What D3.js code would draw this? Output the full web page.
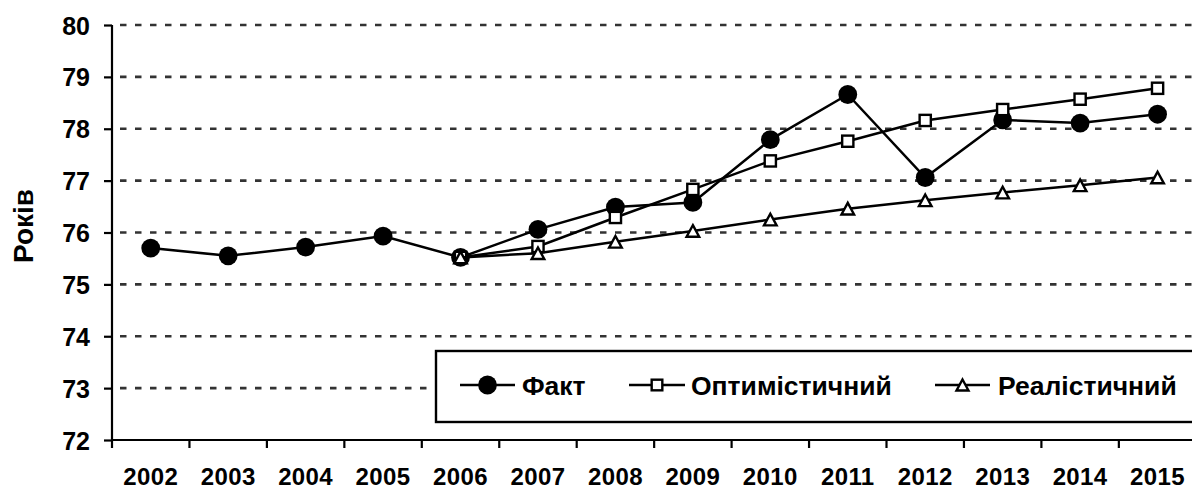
<!DOCTYPE html>
<html>
<head>
<meta charset="utf-8">
<script src="https://cdn.jsdelivr.net/npm/d3@7"></script>
<style>
  html, body { margin: 0; padding: 0; background: #fff; overflow: hidden; }
  svg { display: block; font-family: "Liberation Sans", Arial, sans-serif; font-weight: bold; }
</style>
</head>
<body>
<svg id="chart" width="1192" height="490"></svg>
<script>
const years = ["2002","2003","2004","2005","2006","2007","2008","2009","2010","2011","2012","2013","2014","2015"];
const fact       = [75.70, 75.55, 75.72, 75.93, 75.52, 76.06, 76.49, 76.58, 77.79, 78.66, 77.06, 78.17, 78.11, 78.28];
const optimistic = [null, null, null, null, 75.52, 75.73, 76.29, 76.83, 77.38, 77.76, 78.16, 78.37, 78.57, 78.78];
const realistic  = [null, null, null, null, 75.52, 75.60, 75.82, 76.03, 76.25, 76.46, 76.62, 76.77, 76.91, 77.06];
const yTicks = [72, 73, 74, 75, 76, 77, 78, 79, 80];
const seriesNames = ["Факт", "Оптимістичний", "Реалістичний"];
const yTitle = "Років";

(function () {
const svg = d3.select("#chart");
const mLeft = 112, mTop = 25, mBottom = 440, step = 77.45;
const x = d3.scaleBand().domain(years).range([mLeft, mLeft + step * years.length]).paddingInner(0).paddingOuter(0);
const y = d3.scaleLinear().domain([72, 80]).range([mBottom, mTop]);

// Gridlines
svg.append("g").selectAll("line").data(yTicks.filter(t => t > 72)).join("line")
  .attr("x1", mLeft + 8).attr("x2", 1192)
  .attr("y1", d => y(d)).attr("y2", d => y(d))
  .attr("stroke", "#333").attr("stroke-width", 2.6).attr("stroke-dasharray", "6.5 8.5");

// Y axis
const yAxis = svg.append("g").attr("transform", `translate(${mLeft},0)`)
  .call(d3.axisLeft(y).tickValues(yTicks).tickSize(8).tickPadding(14).tickFormat(d3.format("d")));
yAxis.select(".domain").attr("stroke", "#000").attr("stroke-width", 2.2).attr("d", `M0,${mTop}V${mBottom}`);
yAxis.selectAll(".tick line").attr("stroke", "#000").attr("stroke-width", 2.2);
yAxis.selectAll(".tick text").attr("font-size", 25).attr("font-weight", "bold")
  .attr("font-family", "Liberation Sans, Arial, sans-serif").attr("fill", "#000").attr("dy", "0.36em");

// X axis labels
const xAxis = svg.append("g").attr("transform", `translate(0,${mBottom})`)
  .call(d3.axisBottom(x).tickSize(0).tickPadding(0));
xAxis.select(".domain").remove();
xAxis.selectAll(".tick text").attr("font-size", 24).attr("font-weight", "bold")
  .attr("font-family", "Liberation Sans, Arial, sans-serif").attr("fill", "#000")
  .attr("letter-spacing", 0.4)
  .attr("y", 45).attr("dy", 0);
// X axis line and boundary ticks
svg.append("line").attr("x1", mLeft).attr("x2", 1192).attr("y1", mBottom).attr("y2", mBottom)
  .attr("stroke", "#000").attr("stroke-width", 2.2);
const bounds = years.map(d => x(d)).concat([x(years[years.length - 1]) + x.bandwidth()]);
svg.append("g").selectAll("line").data(bounds).join("line")
  .attr("x1", d => d).attr("x2", d => d).attr("y1", mBottom).attr("y2", mBottom + 8)
  .attr("stroke", "#000").attr("stroke-width", 2.2);

// Y title
svg.append("text").attr("transform", "translate(33,226) rotate(-90)")
  .attr("text-anchor", "middle").attr("font-size", 28).attr("font-weight", "bold").attr("fill", "#000")
  .text(yTitle);

// Marker functions
const cx = i => x(years[i]) + x.bandwidth() / 2;
function drawMarker(g, type, px, py, s) {
  if (type === 0) {
    g.append("circle").attr("cx", px).attr("cy", py).attr("r", 9.4 * s).attr("fill", "#000");
  } else if (type === 1) {
    const h = 5.6 * s;
    g.append("rect").attr("x", px - h).attr("y", py - h).attr("width", 2 * h).attr("height", 2 * h)
      .attr("fill", "#fff").attr("stroke", "#000").attr("stroke-width", 2.4);
  } else {
    const w = 6.3 * s, hh = 5.8 * s;
    g.append("path").attr("d", `M${px},${py - hh}L${px + w},${py + hh}L${px - w},${py + hh}Z`)
      .attr("fill", "#fff").attr("stroke", "#000").attr("stroke-width", 2.4).attr("stroke-linejoin", "miter");
  }
}

const allSeries = [fact, optimistic, realistic];
const line = d3.line().defined(d => d.v != null).x(d => cx(d.i)).y(d => y(d.v));
allSeries.forEach((vals, k) => {
  const g = svg.append("g");
  const pts = vals.map((v, i) => ({ v, i }));
  g.append("path").attr("d", line(pts)).attr("fill", "none").attr("stroke", "#000").attr("stroke-width", 2.5);
  pts.filter(d => d.v != null).forEach(d => drawMarker(g, k, cx(d.i), y(d.v), 1));
});

// Legend
const lg = svg.append("g");
lg.append("rect").attr("x", 436).attr("y", 351).attr("width", 800).attr("height", 71)
  .attr("fill", "#fff").attr("stroke", "#000").attr("stroke-width", 2.4);
const legendItems = [
  { lx1: 460, lx2: 515, tx: 522 },
  { lx1: 629, lx2: 685, tx: 691 },
  { lx1: 935, lx2: 990, tx: 998 }
];
const ly = 385;
legendItems.forEach((it, k) => {
  lg.append("line").attr("x1", it.lx1).attr("x2", it.lx2).attr("y1", ly).attr("y2", ly)
    .attr("stroke", "#000").attr("stroke-width", 2.5);
  const scale = k === 0 ? 1 : 0.95;
  drawMarker(lg, k, (it.lx1 + it.lx2) / 2, ly, scale);
  lg.append("text").attr("x", it.tx).attr("y", ly).attr("dy", "0.36em")
    .attr("font-size", 26.5).attr("font-weight", "bold").attr("fill", "#000").text(seriesNames[k]);
});
})();
</script>
</body>
</html>
